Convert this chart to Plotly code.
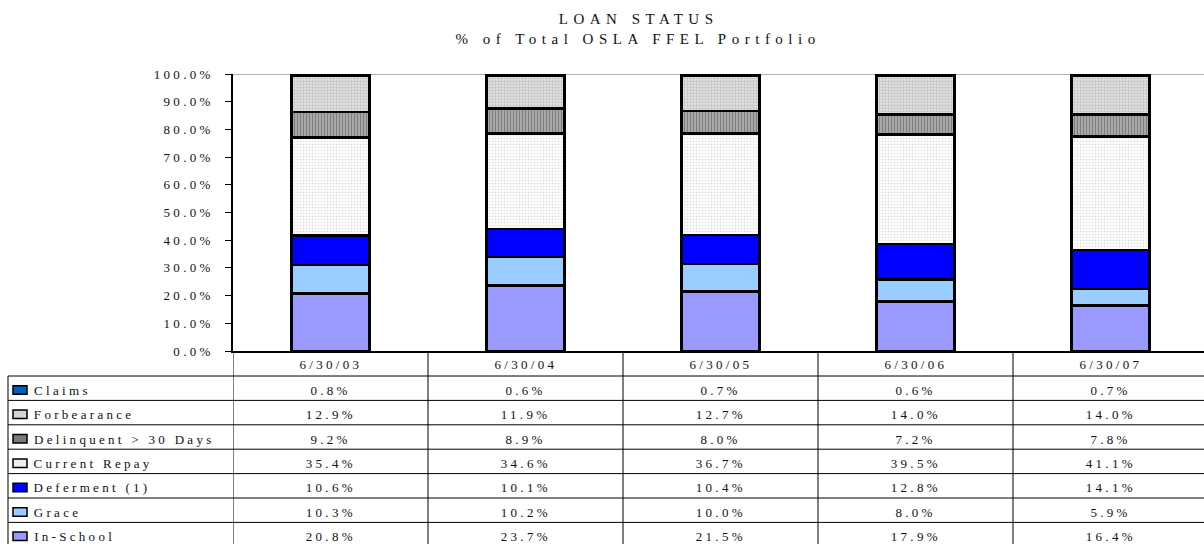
import plotly.graph_objects as go

dates = ["6/30/03", "6/30/04", "6/30/05", "6/30/06", "6/30/07"]

series_names = ["Claims", "Forbearance", "Delinquent > 30 Days", "Current Repay",
                "Deferment (1)", "Grace", "In-School"]
claims = [0.8, 0.6, 0.7, 0.6, 0.7]
forbearance = [12.9, 11.9, 12.7, 14.0, 14.0]
delinquent = [9.2, 8.9, 8.0, 7.2, 7.8]
current_repay = [35.4, 34.6, 36.7, 39.5, 41.1]
deferment = [10.6, 10.1, 10.4, 12.8, 14.1]
grace = [10.3, 10.2, 10.0, 8.0, 5.9]
in_school = [20.8, 23.7, 21.5, 17.9, 16.4]

y_ticks = [0, 10, 20, 30, 40, 50, 60, 70, 80, 90, 100]

table_values = [claims, forbearance, delinquent, current_repay, deferment, grace, in_school]

FONT = "Liberation Serif"
TXT = "#111111"
BODY_SIZE = 13
TITLE_SIZE = 15
BODY_SPACING = 3.3
TITLE_SPACING = 5.5

styles = {
    "In-School": dict(color="#9999FF"),
    "Grace": dict(color="#99CCFF"),
    "Deferment (1)": dict(color="#0000FF"),
    "Current Repay": dict(color="#FFFFFF",
                          pattern=dict(shape=".", bgcolor="#FFFFFF", fgcolor="#C8C8C8",
                                       size=3, solidity=0.35)),
    "Delinquent > 30 Days": dict(color="#A0A0A0",
                                 pattern=dict(shape="|", bgcolor="#B0B0B0", fgcolor="#4A4A4A",
                                              size=3, solidity=0.45)),
    "Forbearance": dict(color="#DDDDDD",
                        pattern=dict(shape=".", bgcolor="#E4E4E4", fgcolor="#A0A0A0",
                                     size=3, solidity=0.45)),
    "Claims": dict(color="#0060C0"),
}
swatch_colors = {
    "Claims": "#0060C0", "Forbearance": "#D4D4D4", "Delinquent > 30 Days": "#7A7A7A",
    "Current Repay": "#EEEEEE", "Deferment (1)": "#0000FF", "Grace": "#99CCFF",
    "In-School": "#9999FF",
}

fig = go.Figure()
# stack bottom to top
for name, vals in reversed(list(zip(series_names, table_values))):
    st = styles[name]
    marker = dict(color=st["color"], line=dict(color="black", width=2.5))
    if "pattern" in st:
        marker["pattern"] = st["pattern"]
    fig.add_trace(go.Bar(x=dates, y=vals, name=name, marker=marker, width=0.4,
                         showlegend=False, hoverinfo="skip"))

# geometry helpers (pixel -> paper)
H = 544
PLOT_TOP, PLOT_BOT = 74, 351
PLOT_L, PLOT_R = 233, 1204
def py(p):
    return (PLOT_BOT - p) / (PLOT_BOT - PLOT_TOP)
def px(p):
    return (p - PLOT_L) / (PLOT_R - PLOT_L)

row_h = 24.4
row_tops = [376 + i * row_h for i in range(8)]

shapes = []
# gray line at 100%
shapes.append(dict(type="line", xref="paper", yref="y", x0=0, x1=1, y0=100, y1=100,
                   line=dict(color="#999999", width=1.5), layer="below"))
# table horizontal lines
for t in row_tops:
    shapes.append(dict(type="line", xref="paper", yref="paper", x0=px(8), x1=1,
                       y0=py(t), y1=py(t), line=dict(color="black", width=1)))
# left border of table
shapes.append(dict(type="line", xref="paper", yref="paper", x0=px(8), x1=px(8),
                   y0=py(376), y1=py(560), line=dict(color="black", width=1)))
# column separators
for i in range(len(dates)):
    shapes.append(dict(type="line", xref="x", yref="paper", x0=i - 0.5, x1=i - 0.5,
                       y0=py(351), y1=py(560), line=dict(color="black", width=1)))

body_font = dict(family=FONT, size=BODY_SIZE, color=TXT)
annotations = []
# header row
for d in dates:
    annotations.append(dict(x=d, xref="x", y=py(364), yref="paper", text=d,
                            xanchor="center", yanchor="middle",
                            showarrow=False, font=body_font))
# body rows
for r, (name, vals) in enumerate(zip(series_names, table_values)):
    cy = row_tops[r] + row_h / 2 + 2
    for d, v in zip(dates, vals):
        annotations.append(dict(x=d, xref="x", y=py(cy), yref="paper", text=f"{v:.1f}%",
                                xanchor="center", yanchor="middle",
                                showarrow=False, font=body_font))
    annotations.append(dict(x=px(32), xref="paper", y=py(cy), yref="paper", text=name,
                            xanchor="left", yanchor="middle",
                            xshift=BODY_SPACING * len(name) / 2,
                            showarrow=False, font=body_font))
    shapes.append(dict(type="rect", xref="paper", yref="paper", x0=px(13), x1=px(27),
                       y0=py(cy - 4.5), y1=py(cy + 4), fillcolor=swatch_colors[name],
                       line=dict(color="black", width=1.5)))

# title
title_font = dict(family=FONT, size=TITLE_SIZE, color=TXT)
annotations.append(dict(x=px(638), xref="paper", y=py(19), yref="paper", text="LOAN STATUS",
                        xanchor="center", yanchor="middle",
                        showarrow=False, font=title_font))
annotations.append(dict(x=px(638), xref="paper", y=py(39), yref="paper",
                        text="% of Total OSLA FFEL Portfolio",
                        xanchor="center", yanchor="middle",
                        showarrow=False, font=title_font))

fig.update_layout(
    barmode="stack",
    width=1204, height=H,
    margin=dict(l=PLOT_L, r=1204 - PLOT_R, t=PLOT_TOP, b=H - PLOT_BOT, pad=0),
    paper_bgcolor="white", plot_bgcolor="white",
    shapes=shapes, annotations=annotations,
    xaxis=dict(type="category", range=[-0.5, -0.5 + (PLOT_R - PLOT_L) / 195.0],
               showticklabels=False, ticks="", showline=True, linecolor="black",
               linewidth=1.5, showgrid=False, zeroline=False, fixedrange=True),
    yaxis=dict(range=[0, 100], tickvals=y_ticks,
               ticktext=[f"{v:.1f}%" for v in y_ticks], ticks="outside", ticklen=6,
               tickcolor="black", tickwidth=1, showline=True, linecolor="black",
               linewidth=1.5, showgrid=False, zeroline=False,
               tickfont=body_font, ticklabelstandoff=9,
               fixedrange=True),
)

post = ("document.body.style.margin='0';"
        "document.querySelectorAll('svg text').forEach(function(t){"
        "var fs=parseFloat(t.style.fontSize)||12;"
        "t.style.letterSpacing=(fs>=14?'%spx':'%spx');});" % (TITLE_SPACING, BODY_SPACING))
fig.write_html("out.html", post_script=post, config={"displayModeBar": False})
